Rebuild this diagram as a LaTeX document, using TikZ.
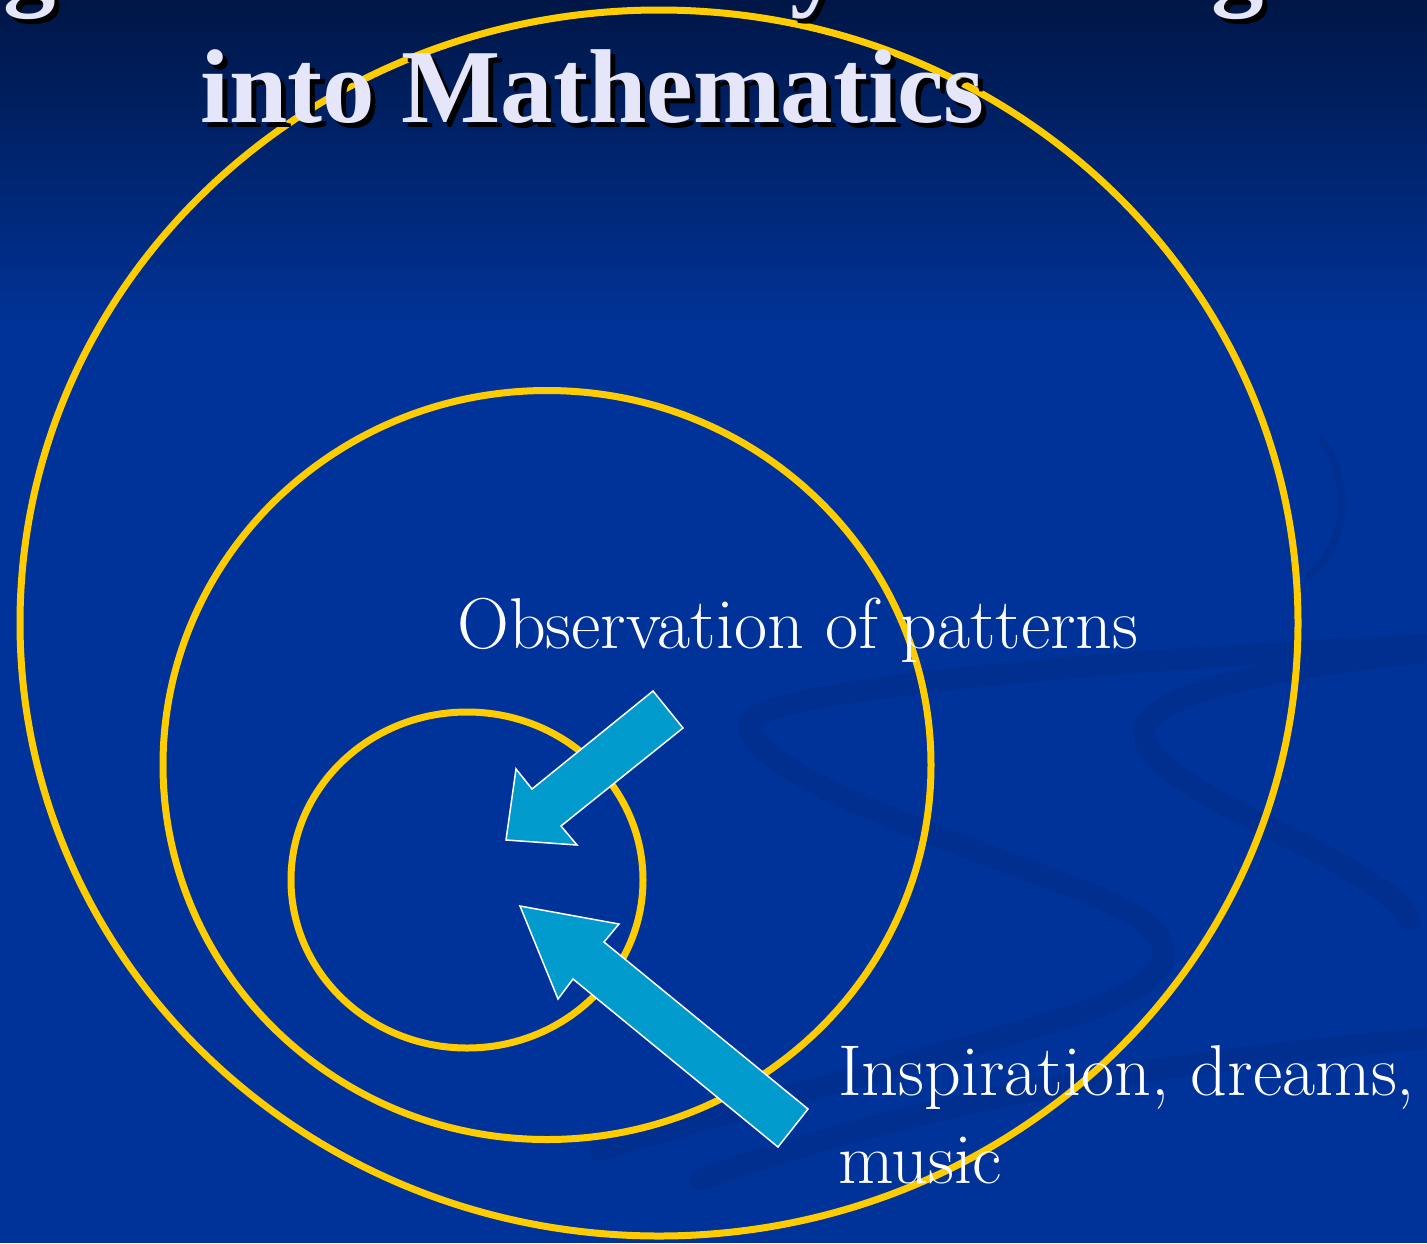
\documentclass[tikz,border=0pt]{standalone}
\usepackage{fontspec}
\usepackage{tikz}
\usetikzlibrary{positioning,shapes.geometric}
\newfontfamily\titlefont{Liberation Serif}
\definecolor{bgtop}{RGB}{0,22,70}
\definecolor{bgmain}{RGB}{0,51,153}
\definecolor{swirlcol}{RGB}{0,47,144}
\definecolor{ringcol}{RGB}{255,204,0}
\definecolor{arrowcol}{RGB}{0,155,204}
\definecolor{titlecol}{RGB}{230,230,250}

\begin{document}
\begin{tikzpicture}[x=1pt,y=-1pt,
ring/.style={ellipse,draw=ringcol,line width=7pt,inner sep=0pt},
blockarrow/.style={fill=arrowcol,draw=white,line width=1.5pt,line join=miter},
swirl/.style={draw=swirlcol,line width=22pt,line cap=round},
titletext/.style={font=\titlefont\bfseries\fontsize{105}{126}\selectfont,
inner sep=0pt,anchor=base west},
bodytext/.style={font=\fontsize{72}{88}\selectfont,text=white,
inner sep=0pt,anchor=base west,align=left}]
\useasboundingbox (0,0) rectangle (1427,1243);
\clip (0,0) rectangle (1427,1243);
% background
\fill[bgmain] (0,0) rectangle (1427,1243);
\shade[top color=bgtop,bottom color=bgmain] (0,0) rectangle (1427,330);
\draw[swirl] (1427,645) .. controls (1100,660) and (760,690) .. (750,723)
  .. controls (740,770) and (950,840) .. (1080,890)
  .. controls (1200,935) and (1180,975) .. (1090,1010)
  .. controls (1000,1040) and (800,1090) .. (600,1150);
\draw[swirl] (1427,652) .. controls (1250,670) and (1130,700) .. (1145,740)
  .. controls (1165,800) and (1380,860) .. (1410,920);
\draw[swirl] (1427,1038) .. controls (1200,1060) and (950,1090) .. (700,1180);
\draw[swirl,line width=8pt] (1322,440) .. controls (1350,480) and (1350,540) .. (1310,575);
% rings
\node[ring,minimum width=1278pt,minimum height=1226pt] (outer) at (659,623) {};
\node[ring,minimum width=768pt,minimum height=749pt] (middle) at (547,765) {};
\node[ring,minimum width=352pt,minimum height=336pt] (inner) at (467,880) {};
% arrows
\draw[blockarrow] (653,691) -- (683,728) -- (561,826) -- (577,845)
  -- (506,840) -- (516,769) -- (532,789) -- cycle;
\draw[blockarrow] (520,906) -- (619,924) -- (604,942) -- (808,1109)
  -- (778,1147) -- (573,979) -- (558,999) -- cycle;
% title
\foreach \gx/\gl [count=\i] in {3/g,790/y,1211/g}{
  \node[titletext,text=black] (cut shadow \i) at (\gx+5,-4+5) {\gl};
  \node[titletext,text=titlecol] (cut \i) at (\gx,-4) {\gl};
}
\node[titletext,text=black] (title shadow) at (205,127) {into Mathematics};
\node[titletext,text=titlecol] (title) at (200,122) {into Mathematics};
% labels
\node[bodytext] (patterns) at (457,648) {Observation of patterns};
\node[bodytext] (inspiration) at (838,1183) {Inspiration, dreams,\\music};
\end{tikzpicture}
\end{document}
